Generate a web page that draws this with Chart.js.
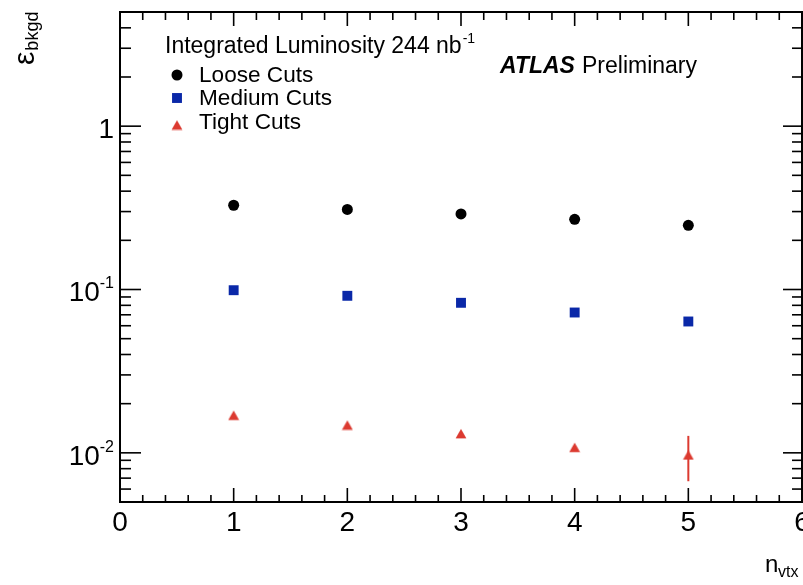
<!DOCTYPE html>
<html>
<head>
<meta charset="utf-8">
<title>Background efficiency vs number of vertices</title>
<script src="https://cdn.jsdelivr.net/npm/chart.js@4.4.1/dist/chart.umd.min.js"></script>
<style>
  html, body { margin: 0; padding: 0; background: #ffffff; }
  #wrap { width: 803px; height: 585px; position: relative; }
</style>
</head>
<body>
<div id="wrap"><canvas id="c" width="803" height="585"></canvas></div>
<script>
// ---- data ----
const nvtx = [1, 2, 3, 4, 5];
const looseEff  = [0.328, 0.309, 0.290, 0.269, 0.247];
const mediumEff = [0.0990, 0.0915, 0.0829, 0.0723, 0.0637];
const tightEff  = [0.0170, 0.0148, 0.0131, 0.0108, 0.0097];
const tightErr  = [0, 0, 0, 0, 0.003];
const seriesNames = ['Loose Cuts', 'Medium Cuts', 'Tight Cuts'];

// ---- axes ----
const xRange = [0, 6];
const yRange = [0.005, 5];
const xTickLabels = ['0', '1', '2', '3', '4', '5', '6'];
const yTickValues = [0.01, 0.1, 1];
const yTickLabels = [['10', '-2'], ['10', '-1'], ['1', '']];
const lumiText = ['Integrated Luminosity 244 nb', '-1'];

const FONT = '"Liberation Sans", Arial, Helvetica, sans-serif';
const BLUE = '#0a28a8';
const RED = '#dc3a30';

// triangle marker centred on its bounding box
function triangleMarker(color) {
  const c = document.createElement('canvas');
  c.width = 12; c.height = 11;
  const g = c.getContext('2d');
  g.fillStyle = color;
  g.beginPath();
  g.moveTo(6, 0.8);
  g.lineTo(11.4, 10.2);
  g.lineTo(0.6, 10.2);
  g.closePath();
  g.fill();
  return c;
}
const triRed = triangleMarker(RED);

function pts(ys) { return nvtx.map((x, i) => ({ x: x, y: ys[i] })); }

// minor/major tick lists
function logTicks(min, max) {
  const out = [];
  for (let e = Math.floor(Math.log10(min)); e <= Math.ceil(Math.log10(max)); e++) {
    for (let k = 1; k <= 9; k++) {
      const v = k * Math.pow(10, e);
      if (v >= min * 0.999 && v <= max * 1.001) out.push({ v: v, major: k === 1 });
    }
  }
  return out;
}
function linTicks(min, max, minorStep) {
  const out = [];
  const n = Math.round((max - min) / minorStep);
  for (let i = 0; i <= n; i++) {
    const v = min + i * minorStep;
    out.push({ v: v, major: Math.abs(v - Math.round(v)) < 1e-6 });
  }
  return out;
}

const frameAndLabels = {
  id: 'frameAndLabels',
  beforeDatasetsDraw(chart) {
    // error bars under the markers
    const ctx = chart.ctx, y = chart.scales.y, x = chart.scales.x;
    ctx.save();
    ctx.strokeStyle = RED;
    ctx.lineWidth = 2;
    nvtx.forEach((n, i) => {
      if (tightErr[i] > 0) {
        const px = x.getPixelForValue(n);
        ctx.beginPath();
        ctx.moveTo(px, y.getPixelForValue(tightEff[i] + tightErr[i]));
        ctx.lineTo(px, y.getPixelForValue(tightEff[i] - tightErr[i]));
        ctx.stroke();
      }
    });
    ctx.restore();
  },
  afterDatasetsDraw(chart) {
    const ctx = chart.ctx, ca = chart.chartArea;
    const x = chart.scales.x, y = chart.scales.y;
    ctx.save();
    ctx.strokeStyle = '#000';
    ctx.fillStyle = '#000';

    // frame
    ctx.lineWidth = 2;
    ctx.strokeRect(ca.left, ca.top, ca.right - ca.left, ca.bottom - ca.top);

    // inward ticks
    ctx.lineWidth = 1.6;
    const line = (x1, y1, x2, y2) => { ctx.beginPath(); ctx.moveTo(x1, y1); ctx.lineTo(x2, y2); ctx.stroke(); };
    logTicks(yRange[0], yRange[1]).forEach(t => {
      const py = y.getPixelForValue(t.v);
      line(ca.left, py, ca.left + (t.major ? 21 : 11), py);
      line(ca.right, py, ca.right - (t.major ? 19 : 10), py);
    });
    linTicks(xRange[0], xRange[1], 0.2).forEach(t => {
      const px = x.getPixelForValue(t.v);
      line(px, ca.bottom, px, ca.bottom - (t.major ? 14 : 7));
      line(px, ca.top, px, ca.top + (t.major ? 14 : 8));
    });

    // x tick labels
    ctx.font = '28px ' + FONT;
    ctx.textAlign = 'center';
    ctx.textBaseline = 'alphabetic';
    xTickLabels.forEach((lab, i) => {
      ctx.fillText(lab, x.getPixelForValue(i), ca.bottom + 29);
    });

    // y tick labels with superscript exponents
    yTickValues.forEach((v, i) => {
      const py = y.getPixelForValue(v);
      const [base, sup] = yTickLabels[i];
      ctx.textAlign = 'left';
      ctx.font = '16px ' + FONT;
      const wSup = sup ? ctx.measureText(sup).width : 0;
      ctx.font = '28px ' + FONT;
      const wBase = ctx.measureText(base).width;
      const right = ca.left - 6;
      const x0 = right - wSup - wBase;
      ctx.fillText(base, x0, py + 12);
      if (sup) {
        ctx.font = '16px ' + FONT;
        ctx.fillText(sup, x0 + wBase, py - 1);
      }
    });

    // axis titles
    ctx.textAlign = 'left';
    ctx.font = '24px ' + FONT;
    ctx.fillText('n', 765, 572);
    ctx.font = '16px ' + FONT;
    ctx.fillText('vtx', 778, 577);

    ctx.save();
    ctx.translate(34, 65);
    ctx.rotate(-Math.PI / 2);
    ctx.font = '30px ' + FONT;
    ctx.fillText('\u03b5', 0, 0);
    const we = ctx.measureText('\u03b5').width;
    ctx.font = '18px ' + FONT;
    ctx.fillText('bkgd', we + 1, 4);
    ctx.restore();

    // luminosity note and legend
    ctx.font = '23px ' + FONT;
    ctx.fillText(lumiText[0], 165, 53);
    const wl = ctx.measureText(lumiText[0]).width;
    ctx.font = '14px ' + FONT;
    ctx.fillText(lumiText[1], 165 + wl + 1, 43);

    const legendRows = [82, 105, 129];
    const markerY = [75, 98, 125];
    chart.data.datasets.forEach((ds, i) => {
      ctx.fillStyle = ds.backgroundColor;
      Chart.helpers.drawPoint(ctx, {
        pointStyle: ds.pointStyle, radius: ds.pointRadius, rotation: 0, borderWidth: 0
      }, 177, markerY[i]);
      ctx.fillStyle = '#000';
      ctx.font = '22.6px ' + FONT;
      ctx.fillText(ds.label, 199, legendRows[i]);
    });

    // experiment label
    ctx.font = 'italic bold 23px ' + FONT;
    ctx.fillText('ATLAS', 500, 73);
    ctx.font = '23px ' + FONT;
    ctx.fillText('Preliminary', 582, 73);

    ctx.restore();
  }
};

new Chart(document.getElementById('c'), {
  type: 'scatter',
  data: {
    datasets: [
      { label: seriesNames[0], data: pts(looseEff), pointStyle: 'circle', pointRadius: 5.5,
        backgroundColor: '#000000', borderWidth: 0 },
      { label: seriesNames[1], data: pts(mediumEff), pointStyle: 'rect', pointRadius: 7,
        backgroundColor: BLUE, borderWidth: 0 },
      { label: seriesNames[2], data: pts(tightEff), pointStyle: triRed, pointRadius: 6,
        backgroundColor: RED, borderWidth: 0 }
    ]
  },
  options: {
    responsive: false,
    animation: false,
    devicePixelRatio: 1,
    layout: { autoPadding: false, padding: { left: 120, right: 1, top: 12, bottom: 83 } },
    scales: {
      x: { type: 'linear', min: xRange[0], max: xRange[1], display: false },
      y: { type: 'logarithmic', min: yRange[0], max: yRange[1], display: false }
    },
    plugins: { legend: { display: false }, tooltip: { enabled: false } },
    elements: { point: { hoverRadius: 6 } }
  },
  plugins: [frameAndLabels]
});
</script>
</body>
</html>
